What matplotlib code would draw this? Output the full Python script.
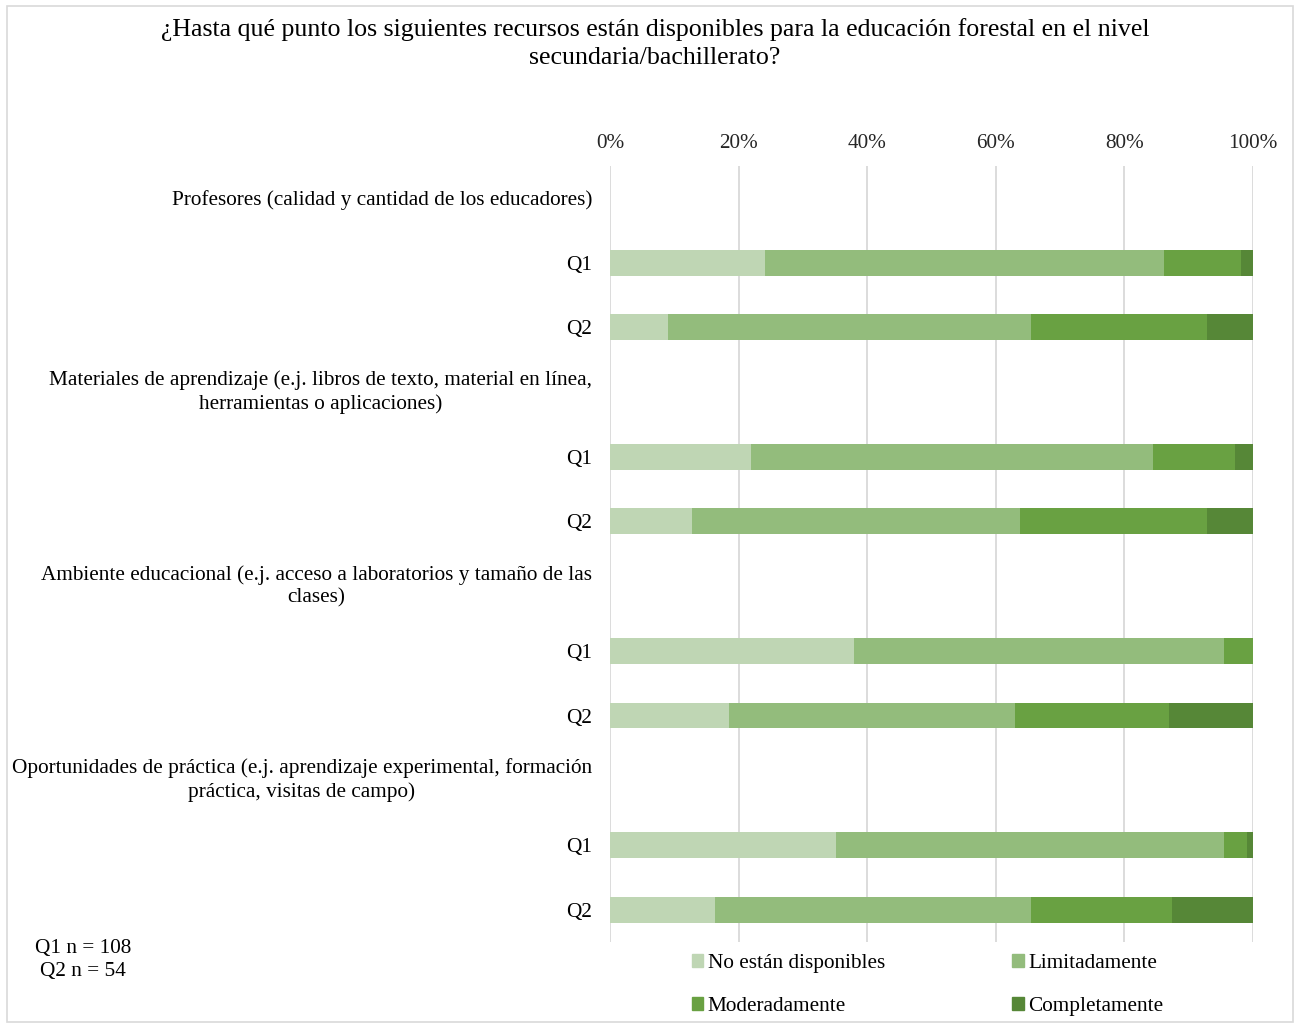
import numpy as np
import matplotlib
matplotlib.use('Agg')
import matplotlib.pyplot as plt
from matplotlib.patches import Rectangle, Patch

plt.rcParams['font.family'] = ['Liberation Serif', 'DejaVu Serif']

TITLE = ('¿Hasta qué punto los siguientes recursos están disponibles para la educación forestal en el nivel\n'
         'secundaria/bachillerato?')

CATEGORIES = [
    'Profesores (calidad y cantidad de los educadores)',
    'Materiales de aprendizaje (e.j. libros de texto, material en línea,\nherramientas o aplicaciones)',
    'Ambiente educacional (e.j. acceso a laboratorios y tamaño de las\nclases)',
    'Oportunidades de práctica (e.j. aprendizaje experimental, formación\npráctica, visitas de campo)',
]
GROUPS = ['Q1', 'Q2']
LEVELS = ['No están disponibles', 'Limitadamente', 'Moderadamente', 'Completamente']

# percentages, order: cat1 Q1, cat1 Q2, cat2 Q1, cat2 Q2, ...
no_disp  = [24.1,  9.1, 22.0, 12.7, 38.0, 18.5, 35.2, 16.4]
limitada = [62.0, 56.4, 62.4, 51.1, 57.5, 44.5, 60.3, 49.1]
moderada = [12.1, 27.3, 12.8, 29.0,  4.5, 24.0,  3.6, 21.9]
completa = [ 1.8,  7.2,  2.8,  7.2,  0.0, 13.0,  0.9, 12.6]

N_TEXT = 'Q1 n = 108\nQ2 n = 54'

COLORS = ['#BFD6B4', '#93BC7C', '#69A142', '#568737']
GRID = '#D9D9D9'
FS = 15.3

fig = plt.figure(figsize=(12.95, 10.24), dpi=100, facecolor='white')
ax = fig.add_axes([0.471, 0.0801, 0.4966, 0.7582])

# rows: header, Q1, Q2 for each category
ylabels = []
bar_pos = []
row = 0
for cat in CATEGORIES:
    ylabels.append(cat)
    row += 1
    for g in GROUPS:
        ylabels.append(g)
        bar_pos.append(row)
        row += 1
n_rows = len(ylabels)

series = [no_disp, limitada, moderada, completa]
left = np.zeros(len(bar_pos))
for vals, color, lab in zip(series, COLORS, LEVELS):
    vals = np.array(vals)
    ax.barh(bar_pos, vals, left=left, height=0.4, color=color, label=lab, zorder=3)
    left += vals

ax.set_xlim(0, 100)
ax.set_ylim(n_rows - 0.5, -0.5)
ax.set_yticks(range(n_rows))
ax.set_yticklabels(ylabels, fontsize=FS)
for t in ax.get_yticklabels():
    t.set_multialignment('center')
    t.set_linespacing(1.25)
    if '\n' in t.get_text():
        t.set_verticalalignment('center')
ax.set_xticks(np.arange(0, 101, 20))
ax.set_xticklabels([f'{v}%' for v in range(0, 101, 20)], fontsize=FS, color='#262626')
ax.xaxis.tick_top()
ax.tick_params(axis='x', length=0, pad=9)
ax.tick_params(axis='y', length=0, pad=13)
ax.grid(axis='x', color=GRID, linewidth=1.3, zorder=0)
for s in ax.spines.values():
    s.set_visible(False)

fig.text(655 / 1295, 1 - 18 / 1024, TITLE, ha='center', va='top', fontsize=18.6,
         linespacing=1.38)
fig.text(83 / 1295, 1 - 960 / 1024, N_TEXT, ha='center', va='center', fontsize=FS,
         multialignment='center', linespacing=1.3)

handles = [Patch(color=c) for c in COLORS]
order = [0, 2, 1, 3]
fig.legend([handles[i] for i in order], [LEVELS[i] for i in order],
           ncol=2, loc='center left', bbox_to_anchor=(681 / 1295, 1 - 985 / 1024),
           frameon=False, fontsize=FS, handlelength=0.55, handleheight=0.55,
           handletextpad=0.2, columnspacing=6.0, labelspacing=1.1, borderpad=0)

fig.patches.append(Rectangle((7 / 1295, 0.002), 1286 / 1295, 1 - 8 / 1024,
                             transform=fig.transFigure, fill=False,
                             edgecolor=GRID, linewidth=1.2))

fig.savefig('out.png', dpi=100, facecolor='white')
